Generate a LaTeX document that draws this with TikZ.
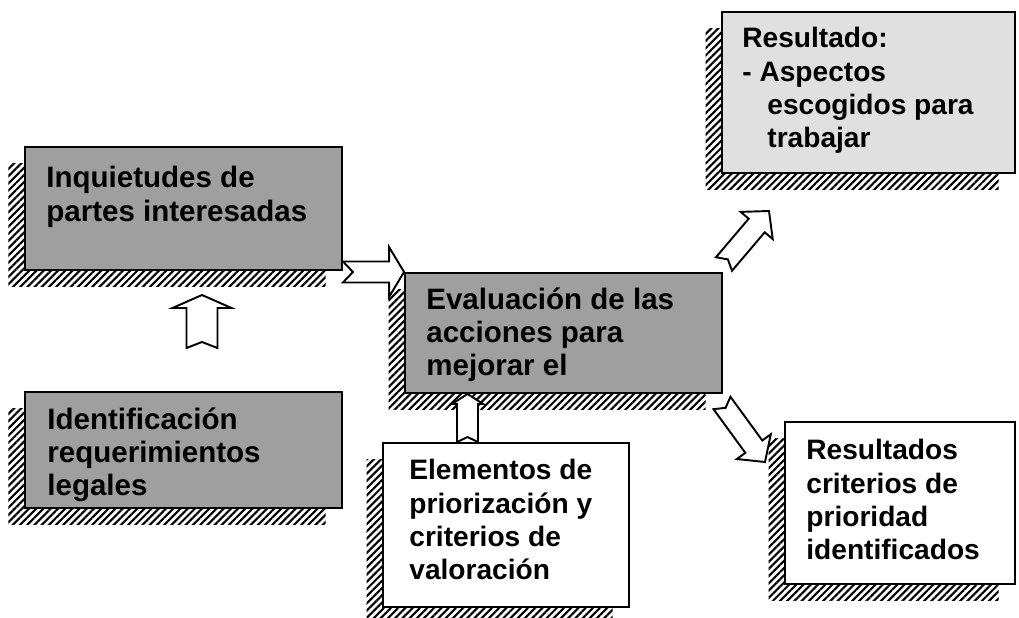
\documentclass[tikz,border=0pt]{standalone}
\usepackage{fontspec}
\setmainfont{Liberation Sans}
\usepackage{tikz}
\usetikzlibrary{calc,shadows,patterns.meta}

% block arrow with a notched tail: tail, tip, shaft half width, head half width, head length, notch
\newcommand{\blockarrow}[6]{%
	\path ($(#2)!#5!(#1)$) coordinate (hb);
	\draw[flowarrow] ($(#1)!#3!90:(#2)$) -- ($(hb)!#3!90:(#2)$) -- ($(hb)!#4!90:(#2)$) -- (#2)
		-- ($(hb)!#4!-90:(#2)$) -- ($(hb)!#3!-90:(#2)$) -- ($(#1)!#3!-90:(#2)$) -- ($(#1)!#6!(#2)$) -- cycle;
}

\tikzset{
	box/.style={draw, line width=1.1pt, general shadow={shadow xshift=-0.33cm, shadow yshift=-0.33cm, pattern={Lines[angle=45,distance=2.9pt,line width=1.2pt]}}},
	darkbox/.style={box, fill=gray!75},
	lightbox/.style={box, fill=black!12},
	plainbox/.style={box, fill=white},
	boxtext/.style={anchor=north west, align=left, inner sep=0pt, font=\bfseries\fontsize{16}{19}\selectfont},
	bigtext/.style={boxtext, font=\bfseries\fontsize{16.8}{19}\selectfont},
	flowarrow/.style={draw, line width=1.1pt, fill=white, line join=miter},
}

\begin{document}
\begin{tikzpicture}
	\useasboundingbox (0,0) rectangle (20.38,12.34);
	% boxes
	\node[darkbox, minimum width=6.34cm, minimum height=2.46cm] (inq) at (3.67,8.17) {};
	\node[darkbox, minimum width=6.34cm, minimum height=2.32cm] (ident) at (3.67,3.34) {};
	\node[darkbox, minimum width=6.34cm, minimum height=2.40cm] (eval) at (11.27,5.68) {};
	\node[lightbox, minimum width=5.86cm, minimum height=3.22cm] (res) at (17.37,10.49) {};
	\node[plainbox, minimum width=4.92cm, minimum height=3.28cm] (elem) at (10.12,1.84) {};
	\node[plainbox, minimum width=4.60cm, minimum height=3.24cm] (prio) at (18.00,2.28) {};
	% texts
	\node[bigtext] (inqtxt) at ([shift={(0.44,-0.40)}]inq.north west) {Inquietudes de\\partes interesadas};
	\node[bigtext] (identtxt) at ([shift={(0.46,-0.32)}]ident.north west) {Identificación\\requerimientos\\legales};
	\node[bigtext] (evaltxt) at ([shift={(0.44,-0.30)}]eval.north west) {Evaluación de las\\acciones para\\mejorar el};
	\node[boxtext] (restxt) at ([shift={(0.42,-0.32)}]res.north west) {Resultado:\\- Aspectos\\\hspace*{0.5cm}escogidos para\\\hspace*{0.5cm}trabajar};
	\node[boxtext] (elemtxt) at ([shift={(0.54,-0.34)}]elem.north west) {Elementos de\\priorización y\\criterios de\\valoración};
	\node[boxtext] (priotxt) at ([shift={(0.44,-0.36)}]prio.north west) {Resultados\\criterios de\\prioridad\\identificados};
	% arrow ends
	\coordinate (a1s) at (4.04,5.38);
	\coordinate (a1e) at (4.04,6.44);
	\coordinate (a2s) at (inq.east |- 0,6.90);
	\coordinate (a2e) at (eval.west |- 0,6.90);
	\coordinate (a3s) at (9.35,0 |- elem.north);
	\coordinate (a3e) at (9.35,0 |- eval.south);
	\coordinate (a4s) at (14.48,7.06);
	\coordinate (a4e) at (15.38,8.12);
	\coordinate (a5s) at (14.44,4.28);
	\coordinate (a5e) at (15.30,3.10);
	% arrows
	\blockarrow{a1s}{a1e}{0.31cm}{0.59cm}{0.26cm}{0.12cm}
	\blockarrow{a2s}{a2e}{0.21cm}{0.50cm}{0.30cm}{0.20cm}
	\blockarrow{a3s}{a3e}{0.21cm}{0.31cm}{0.20cm}{0.10cm}
	\blockarrow{a4s}{a4e}{0.21cm}{0.42cm}{0.38cm}{0.12cm}
	\blockarrow{a5s}{a5e}{0.21cm}{0.42cm}{0.38cm}{0.12cm}
\end{tikzpicture}
\end{document}
